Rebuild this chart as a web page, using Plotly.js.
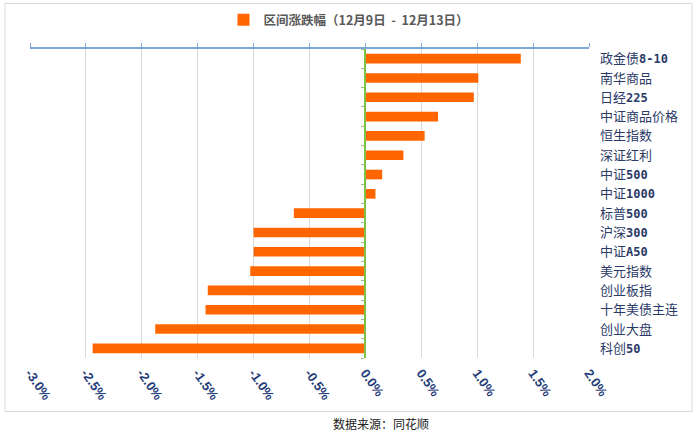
<!DOCTYPE html>
<html>
<head>
<meta charset="utf-8">
<script src="https://cdn.plot.ly/plotly-3.0.1.min.js"></script>
<style>html,body{margin:0;padding:0;background:#fff;}#chart{width:700px;height:434px;}</style>
</head>
<body>
<div id="chart"></div>
<script>
const categories = ["政金债8-10","南华商品","日经225","中证商品价格","恒生指数","深证红利","中证500","中证1000","标普500","沪深300","中证A50","美元指数","创业板指","十年美债主连","创业大盘","科创50"];
const changes = [1.39, 1.01, 0.97, 0.65, 0.53, 0.34, 0.15, 0.09, -0.64, -1.0, -1.0, -1.03, -1.41, -1.43, -1.88, -2.44];
const seriesName = "区间涨跌幅（12月9日  -  12月13日）";
const sourceText = "数据来源：同花顺";
const xTicks = [-3.0, -2.5, -2.0, -1.5, -1.0, -0.5, 0.0, 0.5, 1.0, 1.5, 2.0];

const boundaries = [];
for (let i = 0; i <= categories.length; i++) boundaries.push(i - 0.5);
// bold monospace look for the Latin/digit runs of the labels
const styledLabels = categories.map(c => c.replace(/([A-Za-z0-9\-]+)/g,
  '<span style="font-family:DejaVu Sans Mono;font-weight:bold;font-size:12px">$1</span>'));

const traces = [
  {
    type: 'bar', orientation: 'h', name: seriesName,
    x: changes, y: categories,
    marker: {color: '#FF6600'},
    hoverinfo: 'x+y'
  },
  {type: 'scatter', x: [], y: [], xaxis: 'x2', yaxis: 'y', showlegend: false, hoverinfo: 'skip'},
  {type: 'scatter', x: [], y: [], xaxis: 'x', yaxis: 'y2', showlegend: false, hoverinfo: 'skip'}
];

const L = 30, R = 111, T = 49, B = 76;
const PW = 700 - L - R, PH = 434 - T - B;
const px = v => (v - L) / PW;
const py = v => 1 - (v - T) / PH;

const layout = {
  width: 700, height: 434,
  margin: {l: L, r: R, t: T, b: B, pad: 0, autoexpand: false},
  paper_bgcolor: '#ffffff', plot_bgcolor: '#ffffff',
  bargap: 0.5,
  showlegend: true,
  legend: {
    orientation: 'h', x: px(349), xanchor: 'center', y: py(20), yanchor: 'middle',
    font: {family: 'Noto Sans CJK SC', size: 12.5, color: '#595959', weight: 'bold'},
    itemwidth: 30, bgcolor: 'rgba(0,0,0,0)'
  },
  xaxis: {
    range: [-3, 2], tickvals: xTicks, ticktext: xTicks.map(v => v.toFixed(1) + '%'),
    tickangle: 55, ticklabelstandoff: 4,
    tickfont: {family: 'Liberation Sans', size: 13, color: '#1F3C78', weight: 'bold'},
    showgrid: true, gridcolor: '#D9D9D9', gridwidth: 1,
    zeroline: false, showline: false, ticks: '', fixedrange: true
  },
  xaxis2: {
    overlaying: 'x', side: 'top', anchor: 'y', range: [-3, 2], tickvals: xTicks,
    showticklabels: false, showgrid: false, zeroline: false,
    showline: true, linecolor: '#7EA6D6', linewidth: 2,
    ticks: 'outside', ticklen: 4, tickcolor: '#7EA6D6', tickwidth: 1
  },
  yaxis: {
    type: 'category', categoryarray: categories, autorange: 'reversed',
    tickvals: categories, ticktext: styledLabels,
    side: 'right', ticks: '', showgrid: false, zeroline: false, showline: false,
    ticklabelstandoff: 10,
    tickfont: {family: 'Noto Sans CJK SC', size: 13, color: '#2B3A67'}
  },
  yaxis2: {
    overlaying: 'y', anchor: 'free', position: 0.6, side: 'left',
    range: [categories.length - 0.5, -0.5], tickvals: boundaries,
    showticklabels: false, showgrid: false, zeroline: false,
    showline: true, linecolor: '#7DC242', linewidth: 2,
    ticks: 'outside', ticklen: 3, tickcolor: '#9CB88A', tickwidth: 1
  },
  shapes: [
    {type: 'rect', xref: 'paper', yref: 'paper', x0: px(5), x1: px(692), y0: py(411.5), y1: py(3.5),
     line: {color: '#D9D9D9', width: 1}, fillcolor: 'rgba(0,0,0,0)', layer: 'below'}
  ],
  annotations: [
    {text: sourceText, xref: 'paper', yref: 'paper', x: px(381), y: py(424), xanchor: 'center', yanchor: 'middle',
     showarrow: false, font: {family: 'Noto Sans CJK SC', size: 12, color: '#222222'}}
  ]
};

Plotly.newPlot('chart', traces, layout, {displayModeBar: false, staticPlot: true});
</script>
</body>
</html>
